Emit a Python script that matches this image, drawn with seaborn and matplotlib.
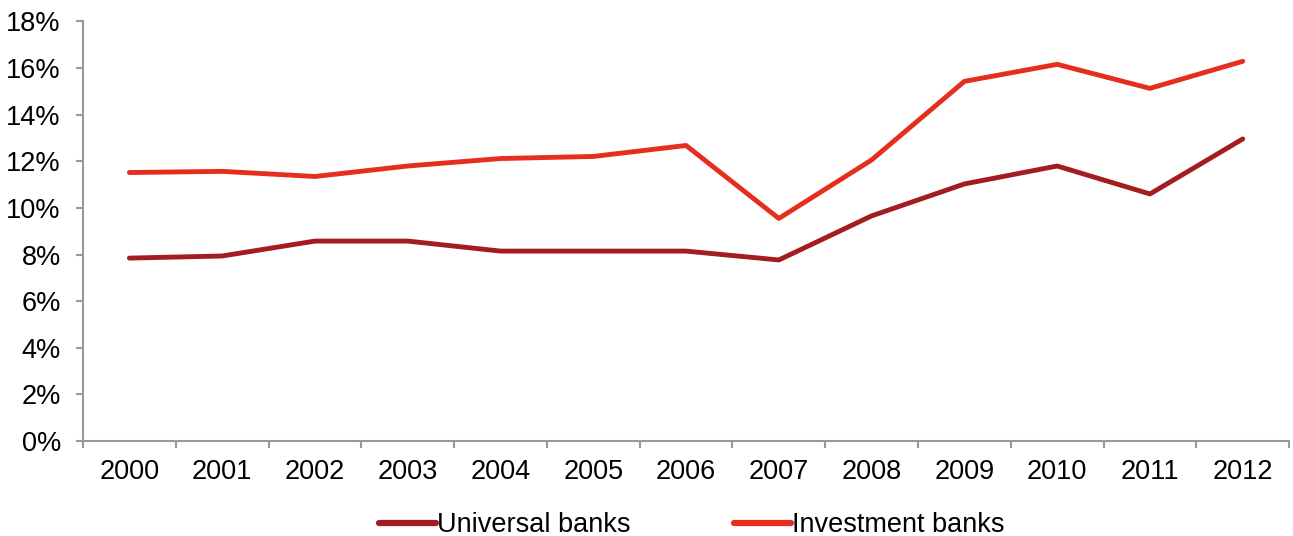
import numpy as np
import pandas as pd
import matplotlib
matplotlib.use('Agg')
import matplotlib.pyplot as plt
import seaborn as sns
from matplotlib.ticker import FixedLocator, NullFormatter

# ── Data ─────────────────────────────────────────────────────────────────────
years = ['2000', '2001', '2002', '2003', '2004', '2005', '2006',
         '2007', '2008', '2009', '2010', '2011', '2012']
universal = [7.85, 7.94, 8.58, 8.58, 8.15, 8.15, 8.15,
             7.77, 9.66, 11.03, 11.80, 10.60, 12.96]
investment = [11.52, 11.57, 11.35, 11.80, 12.12, 12.21, 12.68,
              9.55, 12.06, 15.43, 16.16, 15.13, 16.29]
series_names = ['Universal banks', 'Investment banks']
y_ticks = [0, 2, 4, 6, 8, 10, 12, 14, 16, 18]

UNIV_RED = '#A31C20'
INV_RED = '#E52E1E'
AXIS_GREY = '#999999'
FS = 19.5

df = pd.DataFrame({
    'year': years * 2,
    'value': universal + investment,
    'series': [series_names[0]] * len(years) + [series_names[1]] * len(years),
})
df['x'] = list(range(len(years))) * 2

# ── Plot ─────────────────────────────────────────────────────────────────────
sns.set_style('white')
plt.rcParams['font.family'] = ['Liberation Sans', 'DejaVu Sans']
plt.rcParams['text.color'] = 'black'
plt.rcParams['xtick.color'] = 'black'
plt.rcParams['ytick.color'] = 'black'

fig = plt.figure(figsize=(12.93, 5.36), dpi=100)
ax = fig.add_axes([0.0642, 0.177, 0.9328, 0.783])

sns.lineplot(data=df, x='x', y='value', hue='series',
             palette={series_names[0]: UNIV_RED, series_names[1]: INV_RED},
             linewidth=3.5, ax=ax, legend=False)
for line in ax.lines:
    line.set_solid_capstyle('round')
    line.set_solid_joinstyle('round')

ax.set_xlim(-0.5, len(years) - 0.5)
ax.set_ylim(0, 18)
ax.set_yticks(y_ticks)
ax.set_yticklabels([f'{t}%' for t in y_ticks], fontsize=FS)

# category labels at centres, tick marks at boundaries
ax.xaxis.set_major_locator(FixedLocator(np.arange(-0.5, len(years), 1.0)))
ax.xaxis.set_major_formatter(NullFormatter())
ax.xaxis.set_minor_locator(FixedLocator(np.arange(len(years))))
ax.set_xticklabels(years, minor=True, fontsize=FS)
ax.tick_params(axis='x', which='major', direction='out', length=5,
               width=1.5, color=AXIS_GREY, bottom=True)
ax.tick_params(axis='x', which='minor', length=0, pad=13, bottom=True,
               labelcolor='black')
ax.tick_params(axis='y', direction='out', length=5, width=1.5,
               color=AXIS_GREY, left=True, pad=11, labelcolor='black')

ax.set_xlabel('')
ax.set_ylabel('')
for s in ['top', 'right']:
    ax.spines[s].set_visible(False)
for s in ['left', 'bottom']:
    ax.spines[s].set_color(AXIS_GREY)
    ax.spines[s].set_linewidth(1.5)

handles = [plt.Line2D([], [], color=UNIV_RED, linewidth=4.5, solid_capstyle='round'),
           plt.Line2D([], [], color=INV_RED, linewidth=4.5, solid_capstyle='round')]
fig.legend(handles, series_names, loc='lower center', ncol=2,
           bbox_to_anchor=(0.535, -0.05), frameon=False, fontsize=FS,
           handlelength=2.1, handletextpad=0.05, columnspacing=3.8)

fig.savefig('out.png', dpi=100)
